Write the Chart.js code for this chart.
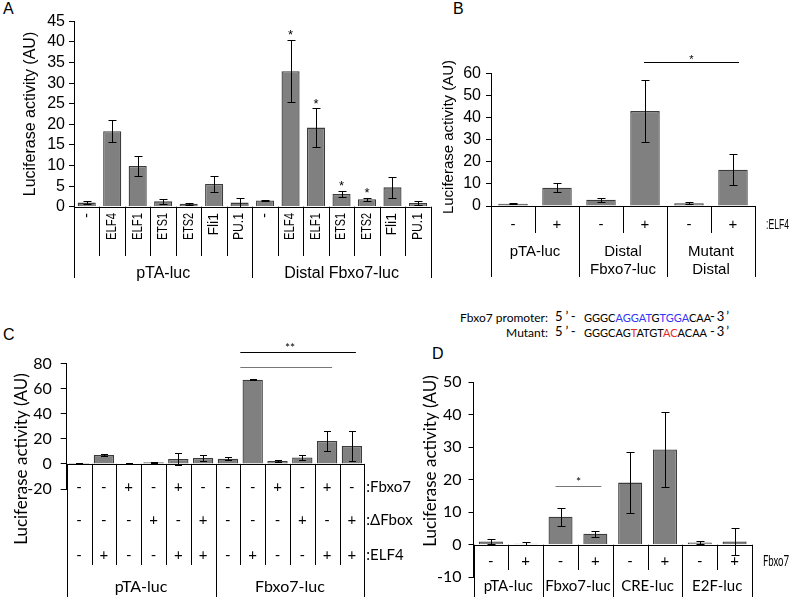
<!DOCTYPE html>
<html>
<head>
<meta charset="utf-8">
<script src="https://cdn.jsdelivr.net/npm/chart.js@4.4.1/dist/chart.umd.min.js"></script>
<style>
  html, body { margin: 0; padding: 0; background: #fff; }
  #wrap { position: relative; width: 789px; height: 597px; overflow: hidden; }
  canvas { position: absolute; left: 0; top: 0; }
  .let { position: absolute; font-family: "Liberation Sans", Arial, sans-serif; font-size: 16px; line-height: 18px; }
  .seq { position: absolute; font-family: Lato, "Open Sans", sans-serif; font-size: 11px; line-height: 15px; white-space: pre; }
  .b { color: #3535f5; }
  .r { color: #e52a2a; }
</style>
</head>
<body>
<div id="wrap">
  <div class="let" style="left:3px;top:0px">A</div>
  <div class="let" style="left:453px;top:0px">B</div>
  <div class="let" style="left:3px;top:326px">C</div>
  <div class="let" style="left:432px;top:345px">D</div>

  <div class="seq" style="right:241px;top:310px;text-align:right;font-size:12px">Fbxo7 promoter:</div>
  <div class="seq" style="left:555px;top:309px;letter-spacing:3px;font-size:13px">5’-</div>
  <div class="seq" style="left:584px;top:310px">GGGC<span class="b">AGGAT</span>G<span class="b">TGGA</span>CAA</div>
  <div class="seq" style="left:710px;top:309px;letter-spacing:2px;font-size:13px">-3’</div>
  <div class="seq" style="right:241px;top:325px;text-align:right;font-size:12px">Mutant:</div>
  <div class="seq" style="left:555px;top:324px;letter-spacing:3px;font-size:13px">5’-</div>
  <div class="seq" style="left:584px;top:325px">GGGCAG<span class="r">T</span>ATGT<span class="r">AC</span>ACAA</div>
  <div class="seq" style="left:710px;top:324px;letter-spacing:2px;font-size:13px">-3’</div>

  <canvas id="cA" width="789" height="597"></canvas>
  <canvas id="cB" width="789" height="597"></canvas>
  <canvas id="cC" width="789" height="597"></canvas>
  <canvas id="cD" width="789" height="597"></canvas>
</div>
<script>
// ---- panel A
const catsA = ['-', 'ELF4', 'ELF1', 'ETS1', 'ETS2', 'Fli1', 'PU.1', '-', 'ELF4', 'ELF1', 'ETS1', 'ETS2', 'Fli1', 'PU.1'];
const valsA = [1.0, 18.3, 9.9, 1.3, 0.7, 5.5, 1.0, 1.5, 32.9, 19.2, 3.1, 1.8, 4.7, 0.9];
const errA = [0.3, 2.7, 2.5, 0.6, 0.2, 1.9, 1.0, 0.2, 7.6, 4.7, 0.8, 0.4, 2.5, 0.5];
const starsA = ['', '', '', '', '', '', '', '', '*', '*', '*', '*', '', ''];
const groupsA = ['pTA-luc', 'Distal Fbxo7-luc'];
const ticksA = [0, 5, 10, 15, 20, 25, 30, 35, 40, 45];

// ---- panel B
const catsB = ['-', '+', '-', '+', '-', '+'];
const valsB = [1.0, 8.3, 2.8, 42.9, 1.2, 16.4];
const errB = [0.3, 1.9, 0.9, 14.0, 0.5, 7.1];
const groupsB = [['pTA-luc'], ['Distal', 'Fbxo7-luc'], ['Mutant', 'Distal']];
const ticksB = [0, 10, 20, 30, 40, 50, 60];

// ---- panel C
const rowFbxo7C = ['-', '-', '+', '-', '+', '-', '-', '-', '+', '-', '+', '-'];
const rowDFboxC = ['-', '-', '-', '+', '-', '+', '-', '-', '-', '+', '-', '+'];
const rowELF4C = ['-', '+', '-', '-', '+', '+', '-', '+', '-', '-', '+', '+'];
const valsC = [0.7, 7.0, 0.4, 1.3, 3.9, 4.8, 4.2, 67.0, 2.4, 5.1, 18.3, 14.2];
const errC = [0.3, 0.8, 0.2, 0.5, 5.0, 2.4, 1.0, 0.4, 0.5, 2.3, 8.0, 12.0];
const groupsC = ['pTA-luc', 'Fbxo7-luc'];
const ticksC = [-20, 0, 20, 40, 60, 80];

// ---- panel D
const rowFbxo7D = ['-', '+', '-', '+', '-', '+', '-', '+'];
const valsD = [1.0, 0.3, 8.6, 3.4, 19.1, 29.3, 0.7, 1.0];
const errD = [0.9, 0.4, 2.8, 0.95, 9.3, 11.6, 0.5, 4.2];
const groupsD = ['pTA-luc', 'Fbxo7-luc', 'CRE-luc', 'E2F-luc'];
const ticksD = [-10, 0, 10, 20, 30, 40, 50];

const AF = '"Liberation Sans", Arial, sans-serif';
const CF = 'Lato, "Open Sans", sans-serif';
const W = 789, H = 597;

// category edges from the x scale
function edges(chart) {
  const x = chart.scales.x;
  const n = chart.data.labels.length;
  const w = (x.getPixelForValue(n - 1) - x.getPixelForValue(0)) / (n - 1);
  const out = [];
  for (let i = 0; i <= n; i++) out.push(x.getPixelForValue(0) - w / 2 + i * w);
  return out;
}
const mid = (e, i) => (e[i] + e[i + 1]) / 2;

function vline(ctx, x, y1, y2) {
  ctx.beginPath(); ctx.moveTo(Math.round(x) + 0.5, y1); ctx.lineTo(Math.round(x) + 0.5, y2); ctx.stroke();
}
function hline(ctx, x1, x2, y, color) {
  ctx.save(); if (color) ctx.strokeStyle = color;
  ctx.beginPath(); ctx.moveTo(x1, Math.round(y) + 0.5); ctx.lineTo(x2, Math.round(y) + 0.5); ctx.stroke();
  ctx.restore();
}
function txt(ctx, s, x, y, font, align, base, maxW) {
  ctx.font = font; ctx.textAlign = align || 'center'; ctx.textBaseline = base || 'middle';
  if (maxW) ctx.fillText(s, x, y, maxW); else ctx.fillText(s, x, y);
}
function rot(ctx, s, x, y, font, align, maxW) {
  ctx.save(); ctx.translate(x, y); ctx.rotate(-Math.PI / 2);
  ctx.font = font; ctx.textAlign = align || 'center'; ctx.textBaseline = 'middle';
  if (maxW) ctx.fillText(s, 0, 0, maxW); else ctx.fillText(s, 0, 0);
  ctx.restore();
}
function star(ctx, s, x, yc, size, fam) {
  ctx.font = size + 'px ' + fam; ctx.textAlign = 'center'; ctx.textBaseline = 'alphabetic';
  ctx.fillText(s, x, yc + 0.57 * size);
}

const errorBars = {
  id: 'errorBars',
  afterDatasetsDraw(chart) {
    const ctx = chart.ctx, y = chart.scales.y, ds = chart.data.datasets[0];
    ctx.save(); ctx.strokeStyle = '#000'; ctx.lineWidth = 1;
    chart.getDatasetMeta(0).data.forEach((bar, i) => {
      const v = ds.data[i], e = ds.errors[i], c = ds.cap;
      const x = Math.round(bar.x) + 0.5;
      const t = Math.round(y.getPixelForValue(v + e)) + 0.5, b = Math.round(y.getPixelForValue(v - e)) + 0.5;
      ctx.beginPath();
      ctx.moveTo(x, t); ctx.lineTo(x, b);
      ctx.moveTo(x - c, t); ctx.lineTo(x + c, t);
      ctx.moveTo(x - c, b); ctx.lineTo(x + c, b);
      ctx.stroke();
    });
    ctx.restore();
  }
};

function panel(id, p) {
  const yW = 60;
  return new Chart(document.getElementById(id), {
    type: 'bar',
    data: {
      labels: p.labels,
      datasets: [{
        data: p.values, errors: p.errors, cap: p.cap,
        backgroundColor: '#808080', borderColor: '#3c3c3c', borderWidth: 1.3,
        barPercentage: p.barPct, categoryPercentage: 1
      }]
    },
    options: {
      responsive: false,
      animation: false,
      layout: { padding: { left: p.axisX - yW, top: p.top, right: W - p.right, bottom: 0 } },
      plugins: { legend: { display: false }, tooltip: { enabled: false } },
      scales: {
        x: {
          ticks: { display: false }, grid: { display: false }, border: { display: false },
          afterFit: s => { s.height = H - p.bottom; }
        },
        y: {
          min: p.ticks[0], max: p.ticks[p.ticks.length - 1],
          afterBuildTicks: s => { s.ticks = p.ticks.map(v => ({ value: v })); },
          afterFit: s => { s.width = yW; },
          grid: { drawOnChartArea: false, tickLength: p.tickLen, color: '#000' },
          border: { color: '#000', width: 1 },
          ticks: { color: '#000', padding: p.tickPad, autoSkip: false, font: { family: p.font, size: p.tickSize } }
        }
      }
    },
    plugins: [errorBars, {
      id: 'deco',
      afterDraw(c) {
        const ctx = c.ctx;
        ctx.save(); ctx.strokeStyle = '#000'; ctx.fillStyle = '#000'; ctx.lineWidth = 1;
        p.deco(c, ctx, edges(c), c.scales.y);
        ctx.restore();
      }
    }]
  });
}

// A
panel('cA', {
  labels: catsA, values: valsA, errors: errA, ticks: ticksA, cap: 4,
  axisX: 74, top: 21.3, bottom: 206.7, right: 430.7, barPct: 0.71,
  font: AF, tickSize: 16, tickPad: 4, tickLen: 5,
  deco(c, ctx, e, y) {
    const y0 = y.getPixelForValue(0);
    hline(ctx, e[0], e[14], y0);
    e.forEach((x, i) => vline(ctx, x, y0, i % 7 === 0 ? 278 : 256));
    catsA.forEach((s, i) => rot(ctx, s, mid(e, i), 213, '14px ' + AF, 'right', 27));
    groupsA.forEach((g, k) => txt(ctx, g, (e[7 * k] + e[7 * k + 7]) / 2, 278, '16px ' + AF, 'center', 'alphabetic'));
    starsA.forEach((s, i) => { if (s) star(ctx, s, mid(e, i), y.getPixelForValue(valsA[i] + errA[i]) - 8, 13, AF); });
    rot(ctx, 'Luciferase activity (AU)', 31, 114, '16px ' + AF);
  }
});

// B
panel('cB', {
  labels: catsB, values: valsB, errors: errB, ticks: ticksB, cap: 4,
  axisX: 491, top: 73.3, bottom: 206, right: 755, barPct: 0.67,
  font: AF, tickSize: 16, tickPad: 5, tickLen: 5,
  deco(c, ctx, e, y) {
    const y0 = y.getPixelForValue(0);
    hline(ctx, e[0], e[6], y0);
    e.forEach((x, i) => vline(ctx, x, y0, i % 2 === 0 ? 277 : 233));
    catsB.forEach((s, i) => txt(ctx, s, mid(e, i), 225, '15px ' + AF));
    groupsB.forEach((g, k) => g.forEach((line, j) =>
      txt(ctx, line, (e[2 * k] + e[2 * k + 2]) / 2, 252 + j * 18, '15px ' + AF)));
    txt(ctx, ':ELF4', 766, 225, '15px ' + AF, 'left', 'middle', 23);
    const ly = y.getPixelForValue(65);
    const x1 = mid(e, 3) - 1, x2 = mid(e, 5) + 6;
    hline(ctx, x1, x2, ly);
    star(ctx, '*', (x1 + x2) / 2, ly - 6, 11, AF);
    rot(ctx, 'Luciferase activity (AU)', 449, 137, '15px ' + AF);
  }
});

// C
panel('cC', {
  labels: rowELF4C, values: valsC, errors: errC, ticks: ticksC, cap: 3.5,
  axisX: 66.7, top: 363.5, bottom: 489, right: 364.3, barPct: 0.82,
  font: CF, tickSize: 16, tickPad: 9, tickLen: 6,
  deco(c, ctx, e, y) {
    const y0 = y.getPixelForValue(0);
    hline(ctx, e[0], e[12], y0);
    e.forEach((x, i) => vline(ctx, x, y0, i % 6 === 0 ? 597 : 565));
    const f = '15px ' + CF;
    rowFbxo7C.forEach((s, i) => txt(ctx, s, mid(e, i), 487, f));
    rowDFboxC.forEach((s, i) => txt(ctx, s, mid(e, i), 520, f));
    rowELF4C.forEach((s, i) => txt(ctx, s, mid(e, i), 555, f));
    txt(ctx, ':Fbxo7', e[12] + 2, 487, f, 'left');
    txt(ctx, ':ΔFbox', e[12] + 2, 520, f, 'left');
    txt(ctx, ':ELF4', e[12] + 2, 555, f, 'left');
    groupsC.forEach((g, k) => txt(ctx, g, (e[6 * k] + e[6 * k + 6]) / 2, 587, '16px ' + CF));
    const l1 = y.getPixelForValue(89), l2 = y.getPixelForValue(77);
    hline(ctx, e[7], mid(e, 11) + 4, l1);
    hline(ctx, e[7], mid(e, 10) + 5, l2, '#777');
    star(ctx, '**', 290, l1 - 7, 12, CF);
    rot(ctx, 'Luciferase activity (AU)', 22, 459, '17px ' + CF);
  }
});

// D
panel('cD', {
  labels: rowFbxo7D, values: valsD, errors: errD, ticks: ticksD, cap: 4,
  axisX: 473.5, top: 382, bottom: 577.3, right: 752, barPct: 0.69,
  font: CF, tickSize: 16, tickPad: 7, tickLen: 5,
  deco(c, ctx, e, y) {
    const y0 = y.getPixelForValue(0);
    hline(ctx, e[0], e[8], y0);
    e.forEach((x, i) => vline(ctx, x, y0, i % 2 === 0 ? 597 : 570));
    rowFbxo7D.forEach((s, i) => txt(ctx, s, mid(e, i), 561, '15px ' + CF));
    txt(ctx, 'Fbxo7', 763, 561, '15px ' + CF, 'left', 'middle', 26);
    groupsD.forEach((g, k) => txt(ctx, g, (e[2 * k] + e[2 * k + 2]) / 2, 586, '15px ' + CF));
    const ly = y.getPixelForValue(18);
    const x1 = mid(e, 2) - 5, x2 = mid(e, 3) + 6;
    hline(ctx, x1, x2, ly, '#777');
    star(ctx, '*', (x1 + x2) / 2, ly - 7, 12, CF);
    rot(ctx, 'Luciferase activity (AU)', 431, 461, '17px ' + CF);
  }
});
</script>
</body>
</html>
